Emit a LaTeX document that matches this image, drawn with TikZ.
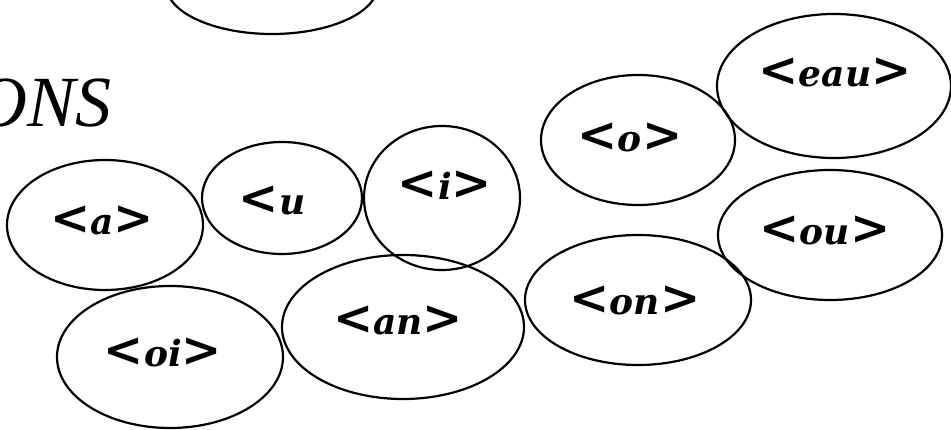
\documentclass[tikz,border=0pt]{standalone}
\usepackage{fontspec}
\setmainfont{Liberation Serif}
\newfontfamily\lblfont{DejaVu Serif}
\usetikzlibrary{shapes.geometric}
\newcommand\chl{{\fontsize{48}{48}\selectfont<}}
\newcommand\chr{{\fontsize{48}{48}\selectfont>}}
\tikzset{
  vowel/.style={draw=black, line width=2.2pt, ellipse, inner sep=0pt},
  lbl/.style={font=\lblfont\fontsize{36}{36}\selectfont\bfseries\itshape, inner sep=0pt}
}
\begin{document}
\begin{tikzpicture}[x=1pt,y=-1pt]
\useasboundingbox (0,0) rectangle (951,430);
\clip (0,0) rectangle (951,430);
\fill[white] (0,0) rectangle (951,430);
% partial ellipse at top
\node[vowel, minimum width=212pt, minimum height=98pt] (top) at (272,-15) {};
% title fragment
\node[font=\fontsize{72}{72}\selectfont\itshape, inner sep=0pt, anchor=base east] (title) at (112,127) {ONS};
% ellipses
\node[vowel, minimum width=196pt, minimum height=130pt] (a) at (105,225) {};
\node[vowel, minimum width=160pt, minimum height=112pt] (u) at (282,198) {};
\node[vowel, minimum width=156pt, minimum height=144pt] (i) at (442,198) {};
\node[vowel, minimum width=194pt, minimum height=130pt] (o) at (638,140) {};
\node[vowel, minimum width=234pt, minimum height=144pt] (eau) at (834,86) {};
\node[vowel, minimum width=224pt, minimum height=130pt] (ou) at (830,235) {};
\node[vowel, minimum width=226pt, minimum height=130pt] (on) at (638,300) {};
\node[vowel, minimum width=242pt, minimum height=144pt] (an) at (403,327) {};
\node[vowel, minimum width=226pt, minimum height=142pt] (oi) at (170,357) {};
% labels
\node[lbl] (ta) at (102,220) {\chl a\chr};
\node[lbl] (tu) at (272,200) {\chl u};
\node[lbl] (ti) at (445,185) {\chl i\chr};
\node[lbl] (to) at (630,137) {\chl o\chr};
\node[lbl] (teau) at (835,72) {\chl eau\chr};
\node[lbl] (tou) at (825,230) {\chl ou\chr};
\node[lbl] (ton) at (635,300) {\chl on\chr};
\node[lbl] (tan) at (398,320) {\chl an\chr};
\node[lbl] (toi) at (163,352) {\chl oi\chr};
\end{tikzpicture}
\end{document}
